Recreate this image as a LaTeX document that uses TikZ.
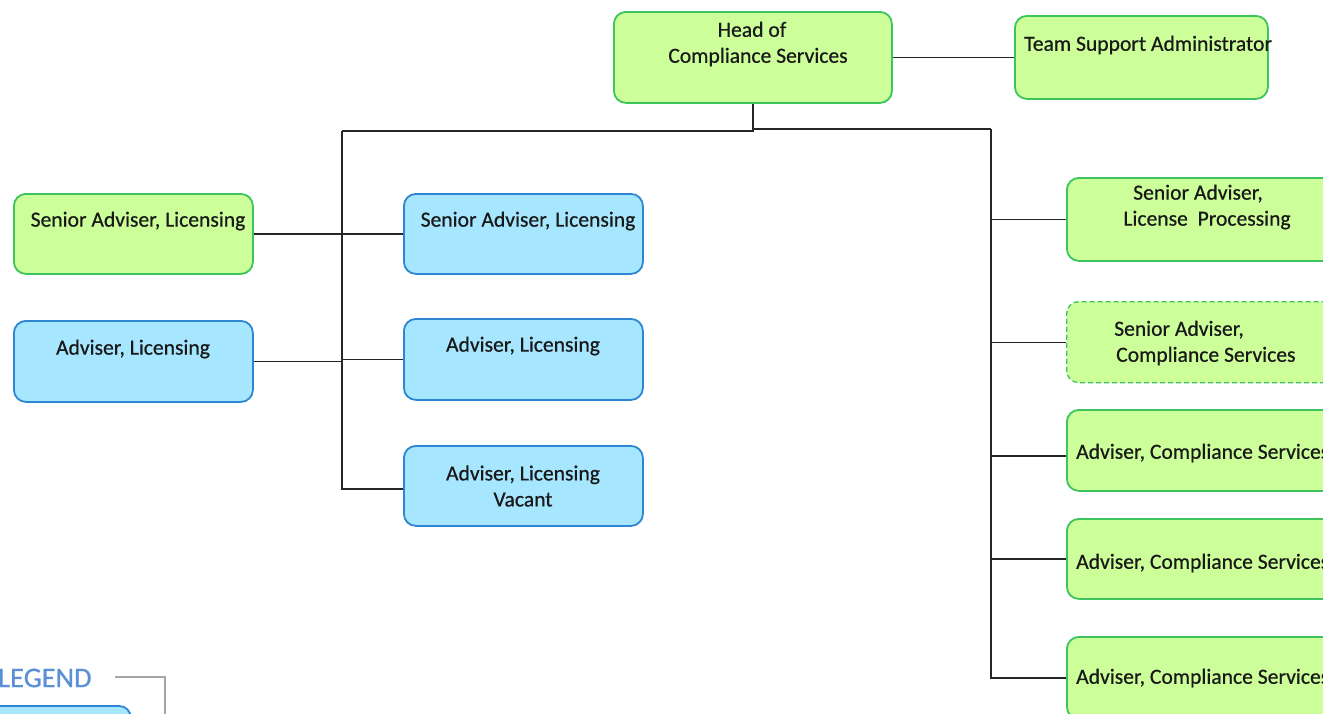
\documentclass[tikz,border=0pt]{standalone}
\usepackage{fontspec}
\setmainfont{Carlito}
\newfontfamily\lblfont{Carlito}[FakeBold=0.6]
\definecolor{gfill}{HTML}{CCFF99}
\definecolor{gline}{HTML}{3DC45C}
\definecolor{bfill}{HTML}{A6E6FF}
\definecolor{bline}{HTML}{2E86D0}
\definecolor{legc}{HTML}{5B8FD6}
\tikzset{
  gbox/.style={draw=gline, fill=gfill, line width=1.8pt, rounded corners=12pt, anchor=north west, inner sep=0pt},
  bbox/.style={draw=bline, fill=bfill, line width=1.8pt, rounded corners=12pt, anchor=north west, inner sep=0pt},
  lbl/.style={font=\lblfont\fontsize{21.6}{26}\selectfont, inner sep=0pt, text=black!90},
  conn/.style={draw=black!85, line width=1.3pt},
}
\begin{document}
\begin{tikzpicture}[x=1pt,y=-1pt]
\clip (0,0) rectangle (1323,713);
\fill[white] (0,0) rectangle (1323,713);
% boxes
\node[gbox, minimum width=278pt, minimum height=91pt] (head) at (613,11) {};
\node[gbox, minimum width=253pt, minimum height=83pt] (team) at (1014,15) {};
\node[gbox, minimum width=239pt, minimum height=80pt] (sl1) at (13,193) {};
\node[bbox, minimum width=239pt, minimum height=81pt] (al1) at (13,320) {};
\node[bbox, minimum width=239pt, minimum height=80pt] (sl2) at (403,193) {};
\node[bbox, minimum width=239pt, minimum height=81pt] (al2) at (403,318) {};
\node[bbox, minimum width=239pt, minimum height=80pt] (vac) at (403,445) {};
\node[gbox, minimum width=280pt, minimum height=83pt] (slp) at (1066,177) {};
\node[gbox, dash pattern=on 5pt off 3pt, line width=1.3pt, minimum width=280pt, minimum height=81pt] (sacs) at (1066,301) {};
\node[gbox, minimum width=280pt, minimum height=81pt] (ac1) at (1066,409) {};
\node[gbox, minimum width=280pt, minimum height=80pt] (ac2) at (1066,518) {};
\node[gbox, minimum width=280pt, minimum height=82pt] (ac3) at (1066,636) {};
% texts
\node[lbl, align=center] (thead) at (758,44) {\hspace*{-12pt}Head of\\Compliance Services};
\node[lbl, anchor=west] (tteam) at (1024,45) {Team Support Administrator};
\node[lbl] (tsl1) at (138,221) {Senior Adviser, Licensing};
\node[lbl] (tal1) at (133,349) {Adviser, Licensing};
\node[lbl] (tsl2) at (528,221) {Senior Adviser, Licensing};
\node[lbl] (tal2) at (523,346) {Adviser, Licensing};
\node[lbl, align=center] (tvac) at (523,486) {Adviser, Licensing\\Vacant};
\node[lbl, align=center] (tslp) at (1207,207) {\hspace*{-18pt}Senior Adviser,\\License\ \ Processing};
\node[lbl, align=left, anchor=west] (tsacs) at (1114,343) {Senior Adviser,\\\hspace*{2pt}Compliance Services};
\node[lbl, anchor=west] (tac1) at (1076,453) {Adviser, Compliance Services};
\node[lbl, anchor=west] (tac2) at (1076,563) {Adviser, Compliance Services};
\node[lbl, anchor=west] (tac3) at (1076,678) {Adviser, Compliance Services};
% connectors
\coordinate (jL) at (342,131);
\coordinate (jR) at (991,129);
\draw[conn] (head.east) -- (team.west);
\draw[conn] (head.south) |- (jL);
\draw[conn] (head.south |- jR) -- (jR);
\draw[conn] (jL) |- ([yshift=-3pt]vac.west);
\draw[conn] (sl1.east) -- (sl2.west);
\draw[conn] (al1.east) -- (jL |- al1.east);
\draw[conn] (jL |- al2.west) -- (al2.west);
\draw[conn] (jR) |- (ac3.west);
\draw[conn] (jR |- slp.west) -- (slp.west);
\draw[conn] (jR |- sacs.west) -- (sacs.west);
\draw[conn] (jR |- ac1.west) ++(0,5.5) -- ([yshift=-5.5pt]ac1.west);
\draw[conn] (jR |- ac2.west) -- (ac2.west);
% legend
\node[font=\lblfont\fontsize{28.5}{32}\selectfont, text=legc, anchor=west, inner sep=0pt] (leg) at (-2,678) {LEGEND};
\coordinate (lg1) at (115,677);
\coordinate (lg2) at (165,677);
\coordinate (lg3) at (165,720);
\draw[draw=black!35, line width=1.2pt] (lg1) -- (lg2) -- (lg3);
\node[bbox, minimum width=150pt, minimum height=40pt] (legbox) at (-20,705) {};
\end{tikzpicture}
\end{document}
